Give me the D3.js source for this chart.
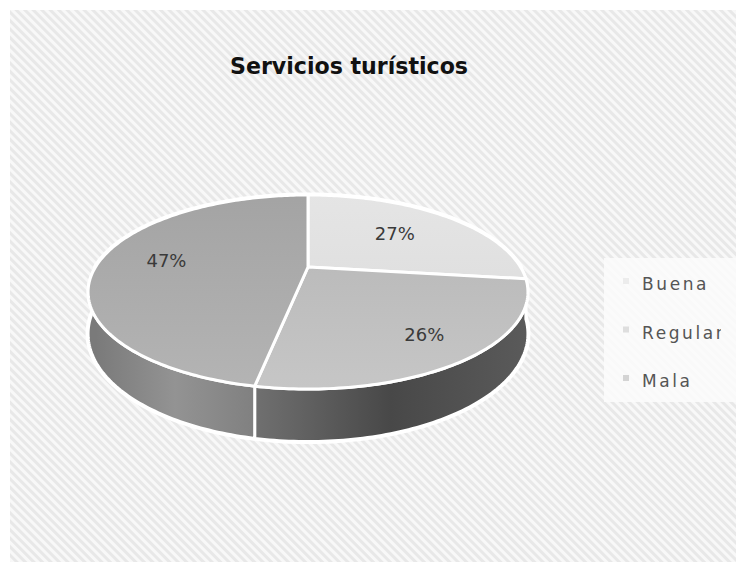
<!DOCTYPE html>
<html>
<head>
<meta charset="utf-8">
<script src="https://cdn.jsdelivr.net/npm/d3@7"></script>
<style>
  body { margin: 0; background: #fff; }
  svg { display: block; }
</style>
</head>
<body>
<svg id="chart"></svg>
<script>
// Data
const categories = ["Buena", "Regular", "Mala"];
const values = [27, 26, 47];
const percentLabels = ["27%", "26%", "47%"];
const chartTitle = "Servicios turísticos";

// Colours per slice (top face gradient, wall gradient, legend marker)
const topColors = [["#e6e6e6", "#d9d9d9"], ["#b3b3b3", "#c6c6c6"], ["#a2a2a2", "#b4b4b4"]];
const wallColors = [["#9a9a9a", "#888888"], ["#707070", "#484848", "#5a5a5a"], ["#7a7a7a", "#939393", "#808080"]];
const markerColors = ["#ececec", "#dedede", "#d4d4d4"];

// Dimensions
const width = 736;
const height = 562;
const cx = 308, cy = 267;     // projected centre of the pie
const kx = 212.5, ky = 90.6;  // radii before perspective
const persp = 0.2577;         // perspective strength
const depth = 39;             // wall thickness

const svg = d3.select("#chart").attr("width", width).attr("height", height);
const defs = svg.append("defs");

// Hatched background
const pat = defs.append("pattern")
  .attr("id", "hatch")
  .attr("patternUnits", "userSpaceOnUse")
  .attr("width", 6).attr("height", 6)
  .attr("patternTransform", "rotate(-45)");
pat.append("rect").attr("width", 6).attr("height", 6).attr("fill", "#e8e8e8");
pat.append("rect").attr("width", 3).attr("height", 6).attr("fill", "#f8f8f8");

svg.append("rect")
  .attr("x", 10).attr("y", 10)
  .attr("width", width - 10).attr("height", height - 10)
  .attr("fill", "url(#hatch)");

// Title
svg.append("text")
  .attr("x", 349)
  .attr("y", 74)
  .attr("text-anchor", "middle")
  .attr("font-family", "'DejaVu Sans Condensed', 'DejaVu Sans', sans-serif")
  .attr("font-weight", "bold")
  .attr("font-size", 23)
  .attr("textLength", 238)
  .attr("lengthAdjust", "spacingAndGlyphs")
  .attr("fill", "#111")
  .text(chartTitle);

// Projection scales
const xs = d3.scaleLinear().domain([-1, 1]).range([cx - kx, cx + kx]);
const ys = d3.scaleLinear().domain([-1, 1]).range([cy - ky, cy + ky]);
const hs = d3.scaleLinear().domain([0, 1]).range([0, depth]);

function project(a, r, h) {
  const wx = r * Math.sin(a);
  const wy = -r * Math.cos(a);
  const w = 1 - persp * wy;
  return [xs(wx / w), ys(wy / w) + hs(h) / w];
}

function arcPoints(a0, a1, h) {
  const n = Math.max(2, Math.ceil((a1 - a0) / (Math.PI / 180)));
  return d3.range(n + 1).map((i) => project(a0 + (a1 - a0) * i / n, 1, h));
}

const line = d3.line().curve(d3.curveLinear);

const pie = d3.pie().sort(null).value((d) => d);
const arcs = pie(values);

// Gradients
arcs.forEach((d, i) => {
  const tg = defs.append("linearGradient")
    .attr("id", "top" + i)
    .attr("gradientUnits", "userSpaceOnUse")
    .attr("x1", 0).attr("y1", cy - ky).attr("x2", 0).attr("y2", cy + ky + 30);
  topColors[i].forEach((c, j, arr) => {
    tg.append("stop").attr("offset", j / (arr.length - 1)).attr("stop-color", c);
  });
  const wg = defs.append("linearGradient")
    .attr("id", "wall" + i)
    .attr("gradientUnits", "userSpaceOnUse");
  const lo = Math.max(d.startAngle, Math.PI / 2);
  const hi = Math.min(d.endAngle, 3 * Math.PI / 2);
  const pa = project(lo, 1, 0), pb = project(hi, 1, 0);
  wg.attr("x1", Math.min(pa[0], pb[0])).attr("x2", Math.max(pa[0], pb[0]))
    .attr("y1", 0).attr("y2", 0);
  wallColors[i].forEach((c, j, arr) => {
    wg.append("stop").attr("offset", j / (arr.length - 1)).attr("stop-color", c);
  });
});

const pieG = svg.append("g");

// White halo round the whole cylinder
const halo = arcPoints(Math.PI / 2, 3 * Math.PI / 2, 1)
  .concat(arcPoints(3 * Math.PI / 2, 5 * Math.PI / 2, 0));
pieG.append("path")
  .attr("d", line(halo) + "Z")
  .attr("fill", "#fff")
  .attr("stroke", "#fff")
  .attr("stroke-width", 5)
  .attr("stroke-linejoin", "round");

// Walls (front half only)
pieG.selectAll(".wall")
  .data(arcs.filter((d) => d.endAngle > Math.PI / 2 && d.startAngle < 3 * Math.PI / 2))
  .enter()
  .append("path")
  .attr("class", "wall")
  .attr("d", (d) => {
    const lo = Math.max(d.startAngle, Math.PI / 2);
    const hi = Math.min(d.endAngle, 3 * Math.PI / 2);
    const pts = arcPoints(lo, hi, 0).concat(arcPoints(lo, hi, 1).reverse());
    return line(pts) + "Z";
  })
  .attr("fill", (d) => "url(#wall" + d.index + ")")
  .attr("stroke", "#fff")
  .attr("stroke-width", 3)
  .attr("stroke-linejoin", "round");

// Top faces
pieG.selectAll(".top")
  .data(arcs)
  .enter()
  .append("path")
  .attr("class", "top")
  .attr("d", (d) => {
    const pts = [[cx, cy]].concat(arcPoints(d.startAngle, d.endAngle, 0));
    return line(pts) + "Z";
  })
  .attr("fill", (d) => "url(#top" + d.index + ")")
  .attr("stroke", "#fff")
  .attr("stroke-width", 3)
  .attr("stroke-linejoin", "round");

// Percent labels
const labelRadius = (d) => (d.index === 1 ? 0.78 : d.index === 2 ? 0.68 : 0.6);
pieG.selectAll(".pct")
  .data(arcs)
  .enter()
  .append("text")
  .attr("class", "pct")
  .attr("x", (d) => project((d.startAngle + d.endAngle) / 2, labelRadius(d), 0)[0])
  .attr("y", (d) => project((d.startAngle + d.endAngle) / 2, labelRadius(d), 0)[1] + 6)
  .attr("text-anchor", "middle")
  .attr("font-family", "'DejaVu Sans', sans-serif")
  .attr("font-size", 18)
  .attr("fill", "#3a3a3a")
  .text((d, i) => percentLabels[i]);

// Legend
defs.append("clipPath").attr("id", "legclip")
  .append("rect").attr("x", 600).attr("y", 250).attr("width", 121).attr("height", 160);

const legend = svg.append("g");
legend.append("rect")
  .attr("x", 604).attr("y", 258)
  .attr("width", 132).attr("height", 144)
  .attr("fill", "#fbfbfb")
  .attr("opacity", 0.85);

const legendY = d3.scalePoint().domain(categories).range([282, 379]);

const items = legend.append("g")
  .attr("clip-path", "url(#legclip)")
  .selectAll(".legend-item")
  .data(categories)
  .enter()
  .append("g")
  .attr("class", "legend-item")
  .attr("transform", (d) => `translate(0, ${legendY(d)})`);

items.append("rect")
  .attr("x", 623).attr("y", -4)
  .attr("width", 6).attr("height", 6)
  .attr("fill", (d, i) => markerColors[i]);

items.append("text")
  .attr("x", 642)
  .attr("y", 8)
  .attr("font-family", "'DejaVu Sans', sans-serif")
  .attr("font-size", 17)
  .attr("letter-spacing", 2.6)
  .attr("fill", "#555")
  .text((d) => d);
</script>
</body>
</html>
